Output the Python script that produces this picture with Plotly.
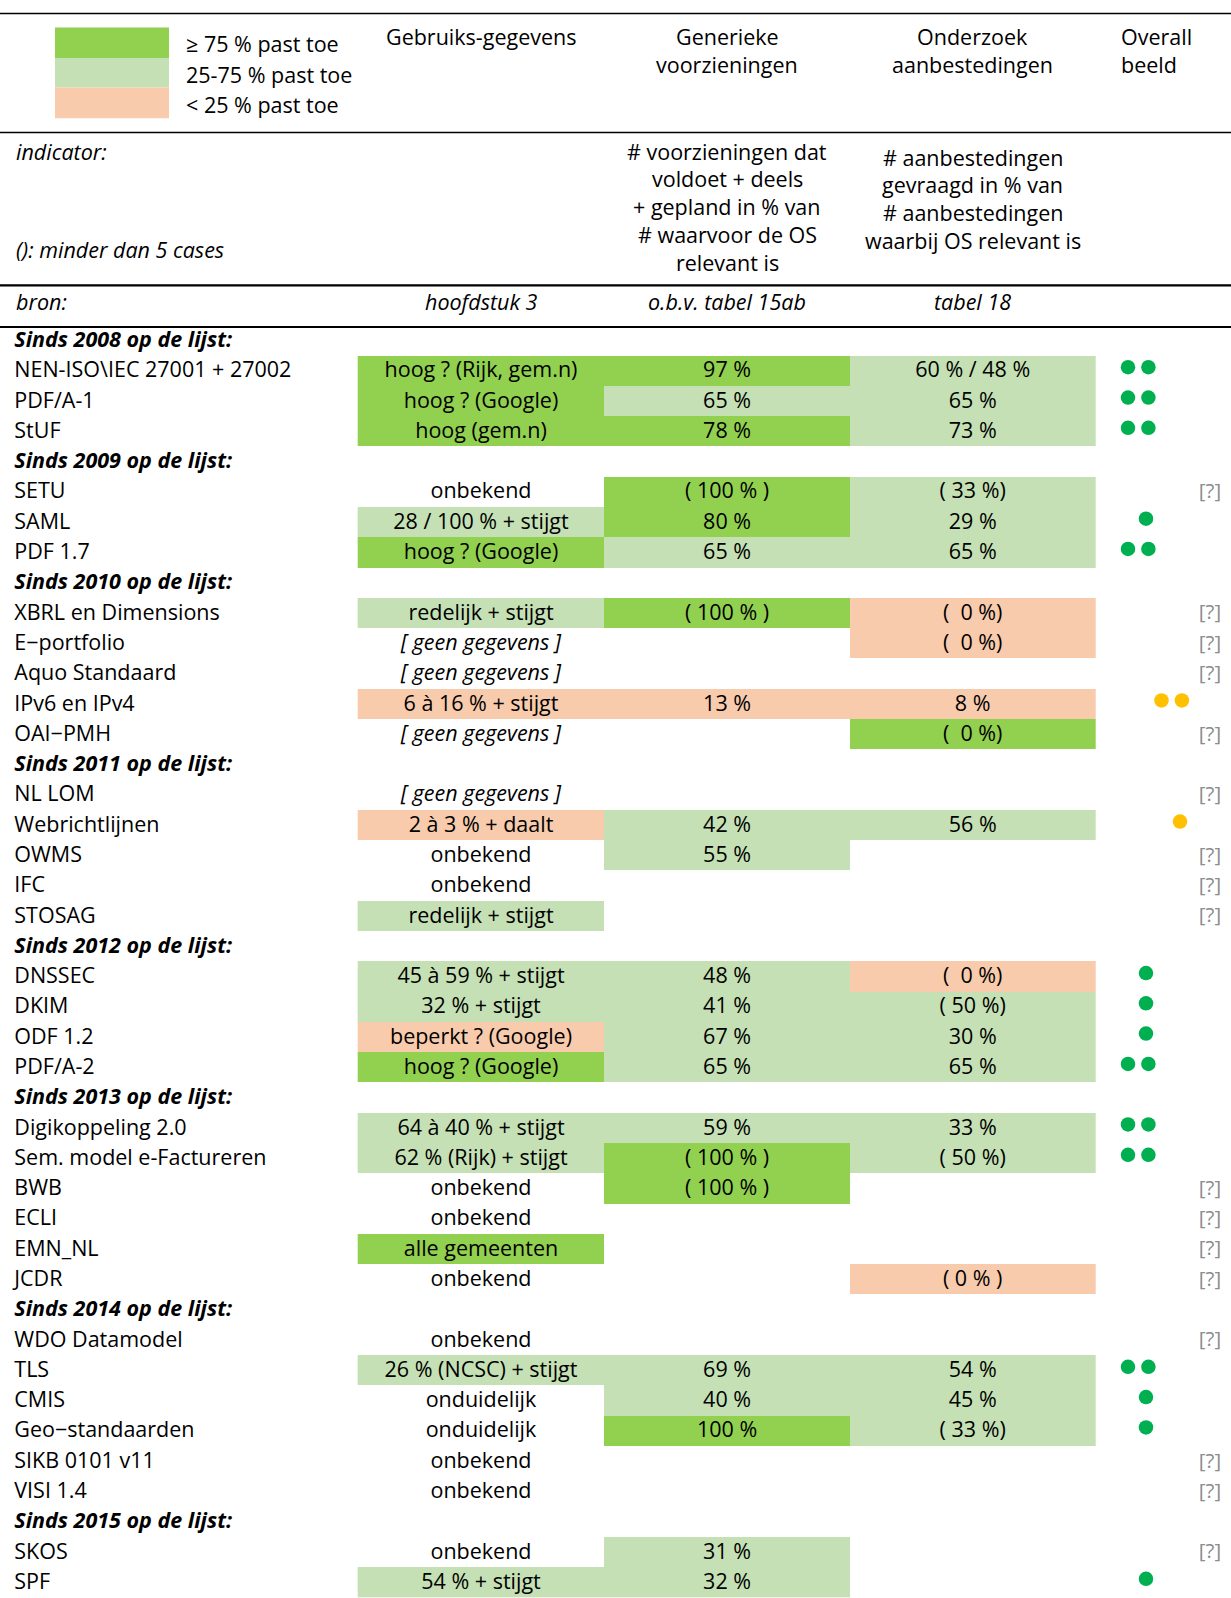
import plotly.graph_objects as go

# ---------------- data ----------------
names = ["Sinds 2008 op de lijst:", "NEN-ISO\\IEC 27001 + 27002", "PDF/A-1", "StUF",
         "Sinds 2009 op de lijst:", "SETU", "SAML", "PDF 1.7",
         "Sinds 2010 op de lijst:", "XBRL en Dimensions", "E\u2212portfolio", "Aquo Standaard", "IPv6 en IPv4", "OAI\u2212PMH",
         "Sinds 2011 op de lijst:", "NL LOM", "Webrichtlijnen", "OWMS", "IFC", "STOSAG",
         "Sinds 2012 op de lijst:", "DNSSEC", "DKIM", "ODF 1.2", "PDF/A-2",
         "Sinds 2013 op de lijst:", "Digikoppeling 2.0", "Sem. model e-Factureren", "BWB", "ECLI", "EMN_NL", "JCDR",
         "Sinds 2014 op de lijst:", "WDO Datamodel", "TLS", "CMIS", "Geo\u2212standaarden", "SIKB 0101 v11", "VISI 1.4",
         "Sinds 2015 op de lijst:", "SKOS", "SPF"]

gebruik_text = ["", "hoog ? (Rijk, gem.n)", "hoog ? (Google)", "hoog (gem.n)",
                "", "onbekend", "28 / 100 % + stijgt", "hoog ? (Google)",
                "", "redelijk + stijgt", "[ geen gegevens ]", "[ geen gegevens ]", "6 à 16 % + stijgt", "[ geen gegevens ]",
                "", "[ geen gegevens ]", "2 à 3 % + daalt", "onbekend", "onbekend", "redelijk + stijgt",
                "", "45 à 59 % + stijgt", "32 % + stijgt", "beperkt ? (Google)", "hoog ? (Google)",
                "", "64 à 40 % + stijgt", "62 % (Rijk) + stijgt", "onbekend", "onbekend", "alle gemeenten", "onbekend",
                "", "onbekend", "26 % (NCSC) + stijgt", "onduidelijk", "onduidelijk", "onbekend", "onbekend",
                "", "onbekend", "54 % + stijgt"]
gebruik_fill = ["", "D", "D", "D",
                "", "", "L", "D",
                "", "L", "", "", "P", "",
                "", "", "P", "", "", "L",
                "", "L", "L", "P", "D",
                "", "L", "L", "", "", "D", "",
                "", "", "L", "", "", "", "",
                "", "", "L"]

generiek_text = ["", "97 %", "65 %", "78 %",
                 "", "( 100 % )", "80 %", "65 %",
                 "", "( 100 % )", "", "", "13 %", "",
                 "", "", "42 %", "55 %", "", "",
                 "", "48 %", "41 %", "67 %", "65 %",
                 "", "59 %", "( 100 % )", "( 100 % )", "", "", "",
                 "", "", "69 %", "40 %", "100 %", "", "",
                 "", "31 %", "32 %"]
generiek_fill = ["", "D", "L", "D",
                 "", "D", "D", "L",
                 "", "D", "", "", "P", "",
                 "", "", "L", "L", "", "",
                 "", "L", "L", "L", "L",
                 "", "L", "D", "D", "", "", "",
                 "", "", "L", "L", "D", "", "",
                 "", "L", "L"]

aanbest_text = ["", "60 % / 48 %", "65 %", "73 %",
                "", "( 33 %)", "29 %", "65 %",
                "", "(  0 %)", "(  0 %)", "", "8 %", "(  0 %)",
                "", "", "56 %", "", "", "",
                "", "(  0 %)", "( 50 %)", "30 %", "65 %",
                "", "33 %", "( 50 %)", "", "", "", "( 0 % )",
                "", "", "54 %", "45 %", "( 33 %)", "", "",
                "", "", ""]
aanbest_fill = ["", "L", "L", "L",
                "", "L", "L", "L",
                "", "P", "P", "", "P", "D",
                "", "", "L", "", "", "",
                "", "P", "L", "L", "L",
                "", "L", "L", "", "", "", "P",
                "", "", "L", "L", "L", "", "",
                "", "", ""]

overall = ["", "gg", "gg", "gg",
           "", "?", "g", "gg",
           "", "?", "?", "?", "oo", "?",
           "", "?", "o", "?", "?", "?",
           "", "g", "g", "g", "gg",
           "", "gg", "gg", "?", "?", "?", "?",
           "", "?", "gg", "g", "g", "?", "?",
           "", "?", "g"]

legend_labels = ["\u2265 75 % past toe", "25-75 % past toe", "< 25 % past toe"]
col_headers = [["Gebruiks-gegevens"], ["Generieke", "voorzieningen"], ["Onderzoek", "aanbestedingen"]]
overall_header = ["Overall", "beeld"]
indicator_col2 = ["# voorzieningen dat", "voldoet + deels", "+ gepland in % van", "# waarvoor de OS", "relevant is"]
indicator_col3 = ["# aanbestedingen", "gevraagd in % van", "# aanbestedingen", "waarbij OS relevant is"]
bron_texts = ["hoofdstuk 3", "o.b.v. tabel 15ab", "tabel 18"]

# ---------------- style / layout ----------------
DG, LG, PE = "#92D050", "#C5E0B4", "#F8CBAD"
GREEN_DOT, ORANGE_DOT = "#00B050", "#FFC000"
FONT = "Open Sans"
FS = 21.5
W, H = 1231, 1598
code = {"D": 0, "L": 1, "P": 2, "": None}
LINE = 27.8
TXT_DY = 1.2  # small baseline correction for text

row_top0 = 325.3
pitch = 30.29
n = len(names)
row_c = [row_top0 + pitch * (i + 0.5) for i in range(n)]
row_edges = [row_top0 + pitch * i for i in range(n + 1)]
col_edges = [357.7, 604.3, 849.9, 1095.5]
col_c = [(col_edges[i] + col_edges[i + 1]) / 2 for i in range(3)]
text_y = [y + TXT_DY for y in row_c]

def nb(s):
    return s.replace("  ", "\u00a0\u00a0")

def txt(x, y, s, anchor="center"):
    fig.add_annotation(x=x, y=y + TXT_DY, text=s, xanchor=anchor, yanchor="middle", showarrow=False,
                       font=dict(family=FONT, size=FS, color="black"))

fig = go.Figure()

# cells
z = [[code[gebruik_fill[i]], code[generiek_fill[i]], code[aanbest_fill[i]]] for i in range(n)]
fig.add_trace(go.Heatmap(z=z, x=col_edges, y=row_edges, zmin=0, zmax=2,
                         colorscale=[[0, DG], [0.5, LG], [1, PE]], showscale=False,
                         hoverinfo="skip", xgap=0, ygap=0))

# row names
name_disp = [("<b><i>%s</i></b>" % s) if s.startswith("Sinds") else s for s in names]
fig.add_trace(go.Scatter(x=[14.3] * n, y=text_y, text=name_disp, mode="text",
                         textposition="middle right", hoverinfo="skip",
                         textfont=dict(family=FONT, size=FS, color="black")))

for k, texts in enumerate([gebruik_text, generiek_text, aanbest_text]):
    disp = [("<i>%s</i>" % nb(t)) if t.startswith("[") else nb(t) for t in texts]
    fig.add_trace(go.Scatter(x=[col_c[k]] * n, y=text_y, text=disp, mode="text",
                             textposition="middle center", hoverinfo="skip",
                             textfont=dict(family=FONT, size=FS, color="black")))

# overall dots and [?]
dx, dy, col = [], [], []
qx, qy = [], []
for i, o in enumerate(overall):
    yc = row_c[i] - 3.5
    if o == "gg":
        dx += [1128, 1148.4]; dy += [yc, yc]; col += [GREEN_DOT] * 2
    elif o == "g":
        dx += [1146]; dy += [yc]; col += [GREEN_DOT]
    elif o == "oo":
        dx += [1161.5, 1181.9]; dy += [yc, yc]; col += [ORANGE_DOT] * 2
    elif o == "o":
        dx += [1180]; dy += [yc]; col += [ORANGE_DOT]
    elif o == "?":
        qx.append(1210); qy.append(text_y[i])
fig.add_trace(go.Scatter(x=dx, y=dy, mode="markers", hoverinfo="skip",
                         marker=dict(size=14.5, color=col, line=dict(width=0))))
fig.add_trace(go.Scatter(x=qx, y=qy, mode="text", text=["[?]"] * len(qx),
                         textposition="middle center", hoverinfo="skip",
                         textfont=dict(family=FONT, size=FS - 1, color="#8C8C8C")))

# legend boxes
leg_cols = [DG, LG, PE]
leg_edges = [27.5, 58.0, 87.6, 118.2]
for j in range(3):
    fig.add_shape(type="rect", x0=55, x1=169, y0=leg_edges[j], y1=leg_edges[j + 1],
                  fillcolor=leg_cols[j], line_width=0, layer="below")
    txt(184, (leg_edges[j] + leg_edges[j + 1]) / 2, legend_labels[j], "left")

# header texts
for k in range(3):
    for m, s in enumerate(col_headers[k]):
        txt(col_c[k], 35.7 + m * LINE, s)
for m, s in enumerate(overall_header):
    txt(1119, 35.7 + m * LINE, s, "left")

# indicator
txt(14.3, 149.8, "<i>indicator:</i>", "left")
txt(14.3, 248.6, "<i>(): minder dan 5 cases</i>", "left")
for m, s in enumerate(indicator_col2):
    txt(col_c[1], 149.8 + m * LINE, s)
for m, s in enumerate(indicator_col3):
    txt(col_c[2], 155.9 + m * LINE, s)

# bron
txt(14.3, 300.6, "<i>bron:</i>", "left")
for k in range(3):
    txt(col_c[k], 300.6, "<i>%s</i>" % bron_texts[k])

# horizontal rules
for yy, lw in [(13.5, 1.3), (132.5, 1.3), (285.3, 2.2), (327.0, 2.2)]:
    fig.add_shape(type="line", x0=0, x1=W, y0=yy, y1=yy, line=dict(color="black", width=lw))

fig.update_layout(width=W, height=H, margin=dict(l=0, r=0, t=0, b=0),
                  paper_bgcolor="white", plot_bgcolor="white", showlegend=False,
                  xaxis=dict(range=[0, W], visible=False, fixedrange=True),
                  yaxis=dict(range=[H, 0], visible=False, fixedrange=True))
fig.write_html("out.html", config={"displayModeBar": False},
               post_script="document.body.style.margin='0';document.body.style.padding='0';")
